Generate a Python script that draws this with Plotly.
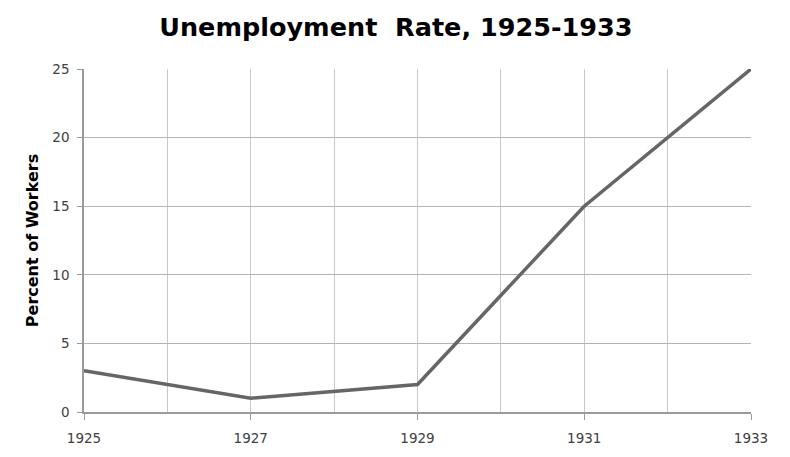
import plotly.graph_objects as go

years = [1925, 1927, 1929, 1931, 1933]
rates = [3, 1, 2, 15, 25]
tick_years = [1925, 1927, 1929, 1931, 1933]
y_ticks = [0, 5, 10, 15, 20, 25]

fig = go.Figure()
fig.add_trace(go.Scatter(x=years, y=rates, mode="lines",
                         line=dict(color="#666666", width=3.5)))

fig.update_layout(
    width=790, height=457,
    paper_bgcolor="white", plot_bgcolor="white",
    margin=dict(l=76, r=47, t=61, b=53),
    showlegend=False,
    title=dict(text="<b>Unemployment  Rate, 1925-1933</b>", x=0.491, xanchor="center",
               y=0.958, yanchor="middle",
               font=dict(family="DejaVu Sans", size=25.5, color="#000000")),
    font=dict(family="DejaVu Sans", size=13, color="#404040"),
)
fig.update_xaxes(range=[1925, 1933], tickvals=tick_years,
                 ticktext=[str(t) for t in tick_years],
                 showgrid=True, gridcolor="#c8c8c8", gridwidth=1,
                 showline=True, linecolor="#9a9a9a", linewidth=1.5,
                 ticks="outside", ticklen=6, tickcolor="#9a9a9a",
                 ticklabelstandoff=7,
                 zeroline=False, tickfont=dict(size=13.5, color="#404040"))
fig.update_xaxes(minor=dict(dtick=1, tick0=1925, showgrid=True, gridcolor="#c8c8c8", gridwidth=1))
fig.update_yaxes(range=[0, 25], tickvals=y_ticks,
                 showgrid=True, gridcolor="#b4b4b4", gridwidth=1.2,
                 showline=True, linecolor="#9a9a9a", linewidth=1.5,
                 ticks="outside", ticklen=5, tickcolor="#9a9a9a",
                 ticklabelstandoff=5,
                 zeroline=False, tickfont=dict(size=13.5, color="#404040"),
                 title=dict(text="<b>Percent of Workers</b>", standoff=10,
                            font=dict(family="DejaVu Sans", size=16, color="#000000")))

fig.write_html("out.html")
